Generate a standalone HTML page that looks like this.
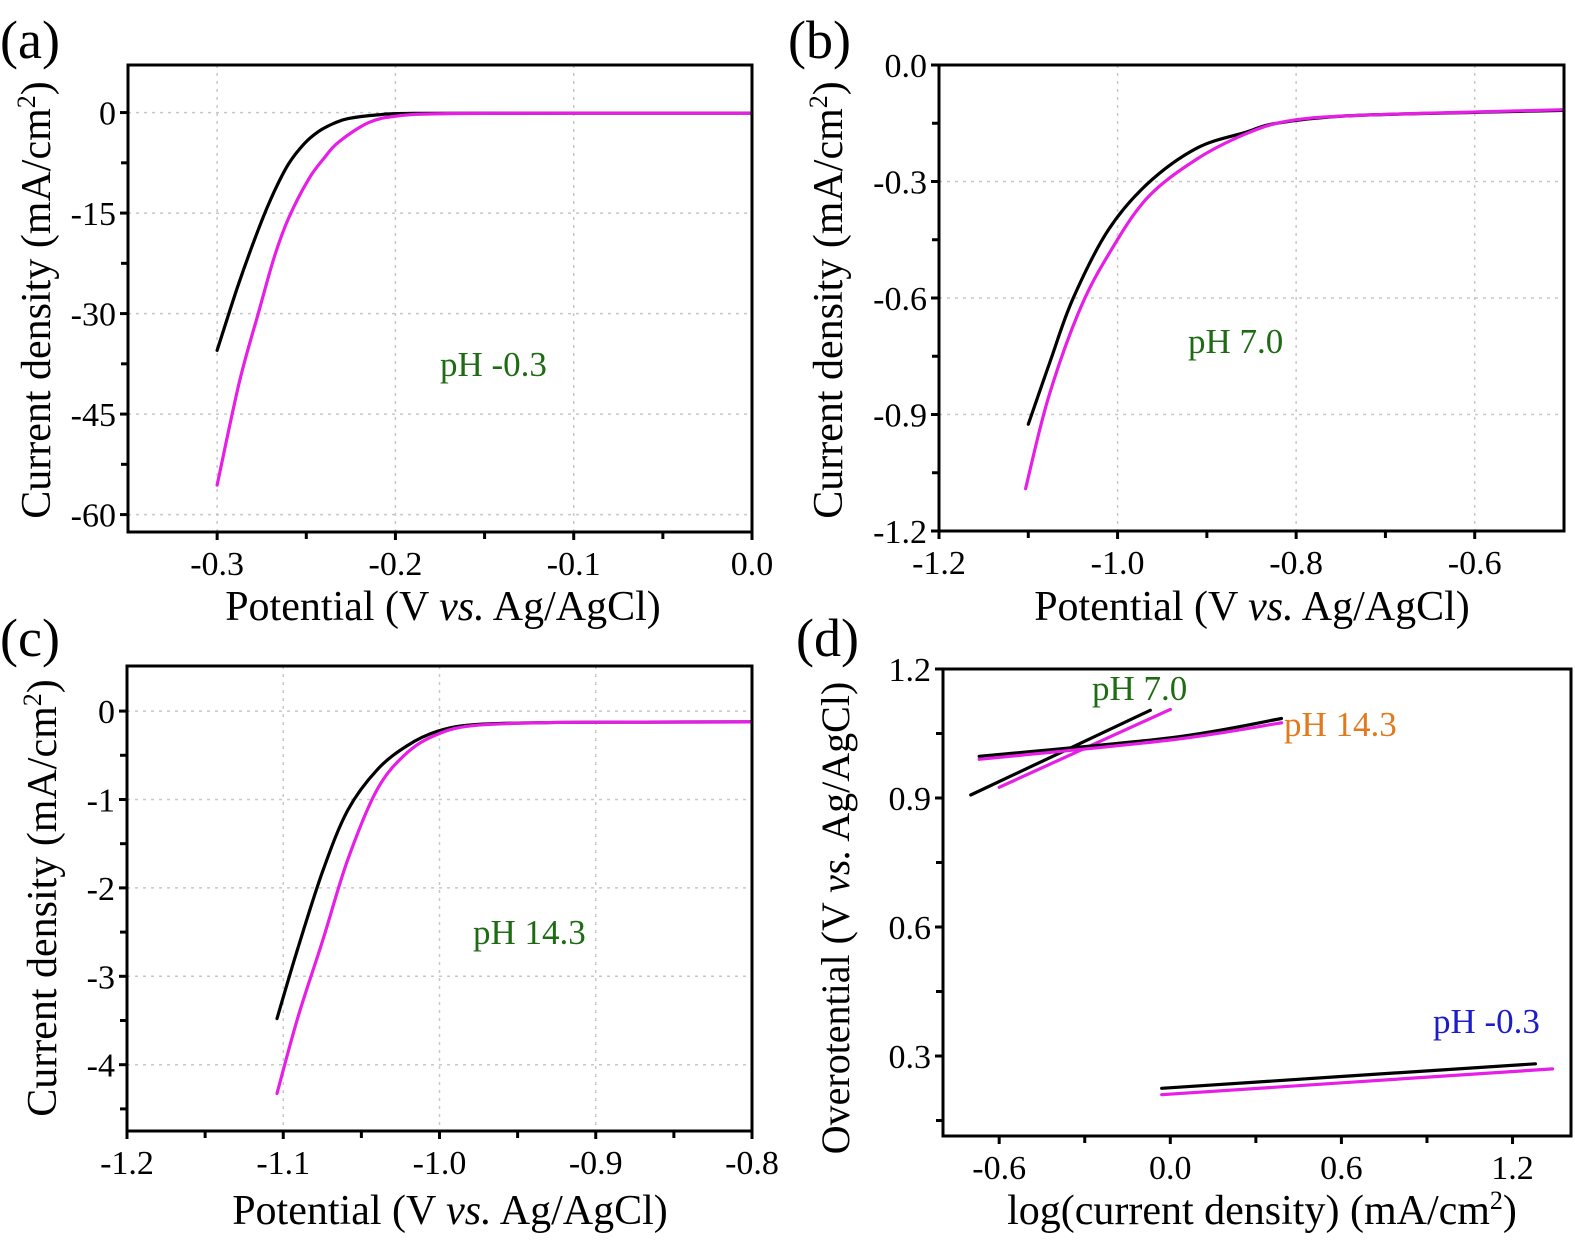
<!DOCTYPE html>
<html><head><meta charset="utf-8"><style>
html,body{margin:0;padding:0;background:#fff;}
svg{display:block;}
text{font-family:"Liberation Serif",serif;fill:#000;}
</style></head><body>
<svg id="s" width="1575" height="1240" viewBox="0 0 1575 1240" xmlns="http://www.w3.org/2000/svg">
<text x="0" y="58" font-size="54">(a)</text>
<text x="788" y="58" font-size="54">(b)</text>
<text x="0" y="656" font-size="54">(c)</text>
<text x="796" y="656" font-size="54">(d)</text>
<text x="443" y="620" font-size="42" text-anchor="middle">Potential (V <tspan font-style="italic">vs.</tspan> Ag/AgCl)</text>
<text x="1252" y="620" font-size="42" text-anchor="middle">Potential (V <tspan font-style="italic">vs.</tspan> Ag/AgCl)</text>
<text x="450" y="1224" font-size="42" text-anchor="middle">Potential (V <tspan font-style="italic">vs.</tspan> Ag/AgCl)</text>
<text x="1262" y="1224" font-size="42" text-anchor="middle">log(current density) (mA/cm<tspan dy="-15" font-size="26">2</tspan><tspan dy="15">)</tspan></text>
<text transform="translate(50,300) rotate(-90)" font-size="42" text-anchor="middle">Current density (mA/cm<tspan dy="-15" font-size="26">2</tspan><tspan dy="15">)</tspan></text>
<text transform="translate(842,300) rotate(-90)" font-size="42" text-anchor="middle">Current density (mA/cm<tspan dy="-15" font-size="26">2</tspan><tspan dy="15">)</tspan></text>
<text transform="translate(56,898) rotate(-90)" font-size="42" text-anchor="middle">Current density (mA/cm<tspan dy="-15" font-size="26">2</tspan><tspan dy="15">)</tspan></text>
<text transform="translate(849,918) rotate(-90)" font-size="40" text-anchor="middle">Overotential (V <tspan font-style="italic">vs.</tspan> Ag/AgCl)</text>
<text x="440" y="376" font-size="35" style="fill:#1f6b14">pH -0.3</text>
<text x="1188" y="353" font-size="35" style="fill:#1f6b14">pH 7.0</text>
<text x="473" y="944" font-size="35" style="fill:#1f6b14">pH 14.3</text>
<text x="1092" y="700" font-size="35" style="fill:#1f6b14">pH 7.0</text>
<text x="1284" y="736" font-size="35" style="fill:#e07a1c">pH 14.3</text>
<text x="1433" y="1033" font-size="35" style="fill:#1c1cc8">pH -0.3</text>
</svg>
<script>
var S=document.getElementById('s'),NS='http://www.w3.org/2000/svg';
function el2(t,a){var e=document.createElementNS(NS,t);for(var k in a)e.setAttribute(k,a[k]);S.appendChild(e);return e;}
function cr(pts){var d='M'+pts[0][0].toFixed(1)+','+pts[0][1].toFixed(1);
 for(var i=0;i<pts.length-1;i++){var p0=pts[i-1]||pts[i],p1=pts[i],p2=pts[i+1],p3=pts[i+2]||p2;
  var c1=[p1[0]+(p2[0]-p0[0])/6,p1[1]+(p2[1]-p0[1])/6],c2=[p2[0]-(p3[0]-p1[0])/6,p2[1]-(p3[1]-p1[1])/6];
  d+='C'+c1[0].toFixed(1)+','+c1[1].toFixed(1)+' '+c2[0].toFixed(1)+','+c2[1].toFixed(1)+' '+p2[0].toFixed(1)+','+p2[1].toFixed(1);}
 return d;}
function panel(P){
 var X=function(v){return P.l+(v-P.x0)/(P.x1-P.x0)*(P.r-P.l)};
 var Y=function(v){return P.t+(P.y1-v)/(P.y1-P.y0)*(P.b-P.t)};
 if(P.grid){
  P.xt.forEach(function(v){var x=X(v);el2('line',{x1:x,x2:x,y1:P.t,y2:P.b,stroke:'#c8c8c8','stroke-width':1.5,'stroke-dasharray':'3,5'});});
  P.yt.forEach(function(v){var y=Y(v);el2('line',{x1:P.l,x2:P.r,y1:y,y2:y,stroke:'#c8c8c8','stroke-width':1.5,'stroke-dasharray':'3,5'});});
 }
 P.series.forEach(function(s){
  var pts=s.p.map(function(q){return [X(q[0]),Y(q[1])]});
  el2('path',{d:cr(pts),fill:'none',stroke:s.c,'stroke-width':3.2,'stroke-linejoin':'round','stroke-linecap':'round'});
 });
 el2('rect',{x:P.l,y:P.t,width:P.r-P.l,height:P.b-P.t,fill:'none',stroke:'#000','stroke-width':3});
 P.xt.forEach(function(v,i){var x=X(v);el2('line',{x1:x,x2:x,y1:P.b,y2:P.b+8,stroke:'#000','stroke-width':3});
  var t=el2('text',{x:x,y:P.b+43,'font-size':34,'text-anchor':'middle'});t.textContent=P.xl[i];});
 P.xm.forEach(function(v){var x=X(v);el2('line',{x1:x,x2:x,y1:P.b,y2:P.b+7,stroke:'#000','stroke-width':3});});
 P.yt.forEach(function(v,i){var y=Y(v);el2('line',{x1:P.l-8,x2:P.l,y1:y,y2:y,stroke:'#000','stroke-width':3});
  var t=el2('text',{x:P.l-12,y:y+12,'font-size':34,'text-anchor':'end'});t.textContent=P.yl[i];});
 P.ym.forEach(function(v){var y=Y(v);el2('line',{x1:P.l-7,x2:P.l,y1:y,y2:y,stroke:'#000','stroke-width':3});});
}
var K='#000',M='#e61ee6';
panel({l:128,r:752,t:65,b:532,x0:-0.35,x1:0,y0:-62.6,y1:7.1,grid:1,
 xt:[-0.3,-0.2,-0.1,0],xl:['-0.3','-0.2','-0.1','0.0'],xm:[-0.25,-0.15,-0.05],
 yt:[0,-15,-30,-45,-60],yl:['0','-15','-30','-45','-60'],ym:[-7.5,-22.5,-37.5,-52.5],
 series:[{c:K,p:[[-0.3,-35.5],[-0.2885,-26],[-0.2765,-17.2],[-0.268,-11.8],[-0.2598,-7.6],[-0.251,-4.6],[-0.243,-2.8],[-0.2345,-1.6],[-0.2265,-0.9],[-0.21,-0.35],[-0.19,-0.12],[-0.1,-0.1],[0,-0.1]]},
 {c:M,p:[[-0.3,-55.6],[-0.2875,-40.2],[-0.2765,-29.6],[-0.268,-21.6],[-0.26,-15.8],[-0.2486,-9.9],[-0.24,-6.8],[-0.2319,-4.4],[-0.215,-1.5],[-0.1986,-0.5],[-0.171,-0.15],[-0.1,-0.1],[0,-0.1]]}]});
panel({l:939,r:1564,t:65,b:531,x0:-1.2,x1:-0.5,y0:-1.2,y1:0,grid:1,
 xt:[-1.2,-1.0,-0.8,-0.6],xl:['-1.2','-1.0','-0.8','-0.6'],xm:[-1.1,-0.9,-0.7],
 yt:[0,-0.3,-0.6,-0.9,-1.2],yl:['0.0','-0.3','-0.6','-0.9','-1.2'],ym:[-0.15,-0.45,-0.75,-1.05],
 series:[{c:K,p:[[-1.1,-0.925],[-1.075,-0.76],[-1.05,-0.602],[-1.011,-0.427],[-0.967,-0.307],[-0.911,-0.214],[-0.856,-0.173],[-0.822,-0.15],[-0.744,-0.131],[-0.6,-0.122],[-0.5,-0.117]]},
 {c:M,p:[[-1.103,-1.091],[-1.078,-0.861],[-1.044,-0.639],[-1.011,-0.491],[-0.967,-0.343],[-0.911,-0.242],[-0.856,-0.177],[-0.811,-0.145],[-0.744,-0.131],[-0.6,-0.121],[-0.5,-0.115]]}]});
panel({l:127,r:752,t:666,b:1131,x0:-1.2,x1:-0.8,y0:-4.75,y1:0.51,grid:1,
 xt:[-1.2,-1.1,-1.0,-0.9,-0.8],xl:['-1.2','-1.1','-1.0','-0.9','-0.8'],xm:[-1.15,-1.05,-0.95,-0.85],
 yt:[0,-1,-2,-3,-4],yl:['0','-1','-2','-3','-4'],ym:[-0.5,-1.5,-2.5,-3.5,-4.5],
 series:[{c:K,p:[[-1.104,-3.478],[-1.0905,-2.674],[-1.0746,-1.804],[-1.0587,-1.12],[-1.0397,-0.66],[-1.0206,-0.39],[-1.0016,-0.23],[-0.979,-0.155],[-0.932,-0.13],[-0.87,-0.125],[-0.8,-0.122]]},
 {c:M,p:[[-1.104,-4.326],[-1.0905,-3.457],[-1.0746,-2.587],[-1.0587,-1.68],[-1.0397,-0.88],[-1.0206,-0.47],[-1.0016,-0.265],[-0.979,-0.165],[-0.932,-0.13],[-0.87,-0.125],[-0.8,-0.122]]}]});
panel({l:943,r:1571,t:669,b:1136,x0:-0.797,x1:1.405,y0:0.114,y1:1.2,grid:0,
 xt:[-0.6,0,0.6,1.2],xl:['-0.6','0.0','0.6','1.2'],xm:[-0.3,0.3,0.9],
 yt:[1.2,0.9,0.6,0.3],yl:['1.2','0.9','0.6','0.3'],ym:[1.05,0.75,0.45,0.15],
 series:[{c:K,p:[[-0.7,0.907],[-0.07,1.104]]},{c:M,p:[[-0.6,0.925],[0.0,1.106]]},
 {c:K,p:[[-0.67,0.997],[0,1.04],[0.39,1.085]]},{c:M,p:[[-0.67,0.99],[0,1.035],[0.39,1.075]]},
 {c:K,p:[[-0.03,0.225],[1.28,0.282]]},{c:M,p:[[-0.03,0.21],[1.34,0.27]]}]});
</script>
</body></html>
